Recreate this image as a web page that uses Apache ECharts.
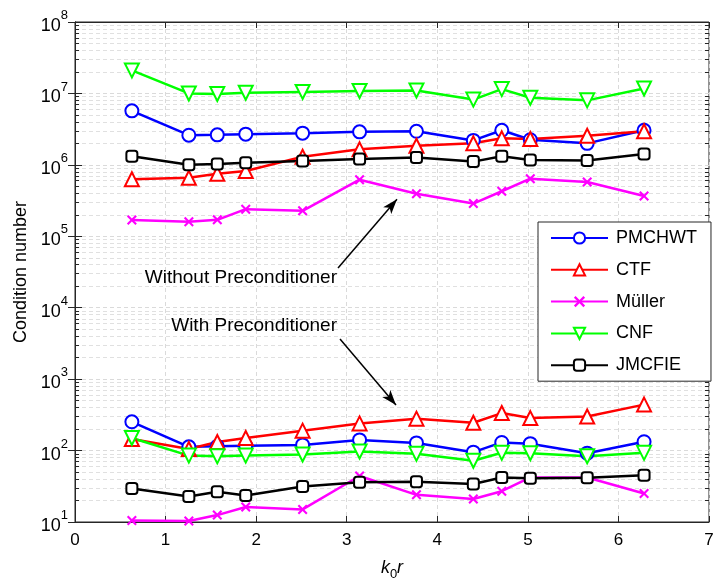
<!DOCTYPE html>
<html>
<head>
<meta charset="utf-8">
<script src="https://cdn.jsdelivr.net/npm/echarts@6/dist/echarts.min.js"></script>
<style>
  html, body { margin: 0; padding: 0; background: #fff; }
  #chart { width: 714px; height: 581px; }
</style>
</head>
<body>
<div id="chart"></div>
<script>
const FONT = '"Liberation Sans", Arial, Helvetica, sans-serif';

// k0*r values
const kr = [0.628, 1.257, 1.571, 1.885, 2.513, 3.142, 3.770, 4.398, 4.712, 5.027, 5.655, 6.283];

// without preconditioner
const pmchwtNo = [5.7e6, 2.6e6, 2.63e6, 2.69e6, 2.78e6, 2.9e6, 2.95e6, 2.2e6, 3.05e6, 2.25e6, 2.0e6, 3.05e6];
const ctfNo = [6.3e5, 6.6e5, 7.5e5, 8.2e5, 1.3e6, 1.65e6, 1.85e6, 2.0e6, 2.35e6, 2.3e6, 2.55e6, 2.95e6];
const mullerNo = [1.69e5, 1.6e5, 1.7e5, 2.4e5, 2.27e5, 6.2e5, 3.95e5, 2.87e5, 4.27e5, 6.4e5, 5.75e5, 3.67e5];
const cnfNo = [2.1e7, 1.0e7, 9.8e6, 1.02e7, 1.05e7, 1.08e7, 1.1e7, 8.2e6, 1.15e7, 8.7e6, 8.0e6, 1.17e7];
const jmcfieNo = [1.32e6, 1.0e6, 1.03e6, 1.07e6, 1.13e6, 1.21e6, 1.27e6, 1.11e6, 1.32e6, 1.17e6, 1.15e6, 1.42e6];

// with preconditioner
const pmchwtPre = [253, 113, 115, 117, 120, 141, 128, 95, 130, 125, 92, 133];
const ctfPre = [145, 105, 132, 150, 190, 240, 280, 245, 335, 285, 300, 440];
const mullerPre = [10.5, 10.3, 12.5, 16.2, 15, 44, 24, 21, 27, 42, 42, 25];
const cnfPre = [150, 85, 83, 85, 88, 97, 90, 72, 93, 92, 83, 93];
const jmcfiePre = [29.5, 22.7, 26.5, 23.5, 31.5, 36, 36.5, 34, 42, 41, 41.5, 45];

const names = ['PMCHWT', 'CTF', 'Müller', 'CNF', 'JMCFIE'];
const colors = ['#0000ff', '#ff0000', '#ff00ff', '#00ff00', '#000000'];

// annotation arrows (data coords)
const arrowNo = [[2.904, 3.6e4], [3.555, 3.3e5]];
const arrowPre = [[2.926, 3650], [3.544, 435]];

const X_PATH = 'path://M0,1.5L1.5,0L5,3.5L8.5,0L10,1.5L6.5,5L10,8.5L8.5,10L5,6.5L1.5,10L0,8.5L3.5,5Z';

const markers = {
    'PMCHWT': { symbol: 'emptyCircle', symbolSize: 13 },
    'CTF': { symbol: 'emptyTriangle', symbolSize: 14 },
    'Müller': { symbol: X_PATH, symbolSize: 10 },
    'CNF': { symbol: 'emptyTriangle', symbolSize: 14, symbolRotate: 180 },
    'JMCFIE': { symbol: 'emptyRoundRect', symbolSize: 11 }
};

function pairs(ys) {
    return kr.map((x, i) => [x, ys[i]]);
}

function makeSeries(name, ys) {
    const idx = names.indexOf(name);
    return Object.assign({
        name: name,
        type: 'line',
        z: 5,
        data: pairs(ys),
        lineStyle: { color: colors[idx], width: 2.5 },
        itemStyle: { color: colors[idx], borderWidth: 2 },
        showAllSymbol: true,
        animation: false
    }, markers[name]);
}

// minor log gridlines and ticks
const minorVals = [];
for (let n = 1; n < 8; n++) {
    for (let k = 2; k < 10; k++) minorVals.push(k * Math.pow(10, n));
}
const gridLines = minorVals.map(v => [{ coord: [0, v] }, { coord: [7, v] }]);
const tickLines = [];
minorVals.forEach(v => {
    tickLines.push([{ coord: [0, v] }, { coord: [0.045, v] }]);
    tickLines.push([{ coord: [6.955, v] }, { coord: [7, v] }]);
});

const series = [
    {
        name: 'minor-grid', type: 'line', data: [], z: 1, silent: true,
        markLine: {
            silent: true, symbol: 'none', label: { show: false }, animation: false,
            lineStyle: { type: [4, 3], color: '#e0e0e0', width: 1 },
            data: gridLines
        }
    },
    {
        name: 'minor-ticks', type: 'line', data: [], z: 2, silent: true,
        markLine: {
            silent: true, symbol: 'none', label: { show: false }, animation: false,
            lineStyle: { type: 'solid', color: '#262626', width: 1 },
            data: tickLines
        }
    },
    {
        name: 'arrows', type: 'line', data: [], z: 6, silent: true,
        markLine: {
            silent: true, symbol: ['none', 'arrow'], symbolSize: [8, 15], label: { show: false }, animation: false,
            lineStyle: { type: 'solid', color: '#000', width: 1.5 },
            data: [
                [{ coord: arrowNo[0] }, { coord: arrowNo[1] }],
                [{ coord: arrowPre[0] }, { coord: arrowPre[1] }]
            ]
        }
    },
    makeSeries('PMCHWT', pmchwtNo),
    makeSeries('PMCHWT', pmchwtPre),
    makeSeries('CTF', ctfNo),
    makeSeries('CTF', ctfPre),
    makeSeries('Müller', mullerNo),
    makeSeries('Müller', mullerPre),
    makeSeries('CNF', cnfNo),
    makeSeries('CNF', cnfPre),
    makeSeries('JMCFIE', jmcfieNo),
    makeSeries('JMCFIE', jmcfiePre)
];

const axisLineStyle = { color: '#262626', width: 1 };
const powLabel = {
    b: { fontSize: 18, fontFamily: FONT, color: '#000', lineHeight: 26, verticalAlign: 'bottom' },
    s: { fontSize: 13, fontFamily: FONT, color: '#000', lineHeight: 26, verticalAlign: 'top' }
};

const chart = echarts.init(document.getElementById('chart'), null, { renderer: 'canvas' });
chart.setOption({
    backgroundColor: '#fff',
    animation: false,
    grid: {
        left: 75, top: 22, width: 634, height: 500,
        outerBoundsMode: 'none', containLabel: false,
        show: true, borderColor: '#262626', borderWidth: 1, backgroundColor: 'transparent'
    },
    legend: {
        data: names,
        z: 20,
        orient: 'vertical',
        left: 538,
        top: 222,
        padding: [7, 14, 7, 12],
        itemWidth: 57,
        itemHeight: 14,
        itemGap: 13.8,
        backgroundColor: '#fff',
        borderColor: '#262626',
        borderWidth: 1,
        borderRadius: 0,
        textStyle: { fontSize: 18, fontFamily: FONT, color: '#000', padding: [0, 0, 0, 3] }
    },
    xAxis: [
        {
            type: 'value', min: 0, max: 7, interval: 1,
            axisLine: { lineStyle: axisLineStyle },
            axisTick: { inside: true, length: 6, lineStyle: axisLineStyle },
            axisLabel: { fontSize: 17, fontFamily: FONT, color: '#000', margin: 10 },
            splitLine: { show: true, lineStyle: { type: [4, 3], color: '#dadada' } },
            name: '{i|k}{s|0}{i|r}',
            nameLocation: 'middle',
            nameGap: 37,
            nameTextStyle: {
                rich: {
                    i: { fontSize: 18, fontFamily: FONT, fontStyle: 'italic', color: '#000', lineHeight: 22, verticalAlign: 'top' },
                    s: { fontSize: 13, fontFamily: FONT, color: '#000', lineHeight: 22, verticalAlign: 'bottom' }
                }
            }
        },
        {
            type: 'value', min: 0, max: 7, interval: 1, position: 'top',
            axisLine: { lineStyle: axisLineStyle },
            axisTick: { inside: true, length: 6, lineStyle: axisLineStyle },
            axisLabel: { show: false },
            splitLine: { show: false }
        }
    ],
    yAxis: [
        {
            type: 'log', logBase: 10, min: 10, max: 1e8, splitNumber: 7,
            axisLine: { lineStyle: axisLineStyle },
            axisTick: { inside: true, length: 7, lineStyle: axisLineStyle },
            axisLabel: {
                margin: 7,
                formatter: v => '{b|10}{s|' + Math.round(Math.log10(v)) + '}',
                rich: powLabel
            },
            splitLine: { show: true, lineStyle: { type: [4, 3], color: '#dadada' } },
            name: 'Condition number',
            nameLocation: 'middle',
            nameGap: 44,
            nameTextStyle: { fontSize: 18, fontFamily: FONT, color: '#000' }
        },
        {
            type: 'log', logBase: 10, min: 10, max: 1e8, splitNumber: 7, position: 'right',
            axisLine: { lineStyle: axisLineStyle },
            axisTick: { inside: true, length: 7, lineStyle: axisLineStyle },
            axisLabel: { show: false },
            splitLine: { show: false }
        }
    ],
    graphic: [
        {
            type: 'text', right: 714 - 337, top: 268, z: 10,
            style: { text: 'Without Preconditioner', font: '19px ' + FONT, fill: '#000' }
        },
        {
            type: 'text', right: 714 - 337, top: 316, z: 10,
            style: { text: 'With Preconditioner', font: '19px ' + FONT, fill: '#000' }
        }
    ],
    series: series
});
</script>
</body>
</html>
